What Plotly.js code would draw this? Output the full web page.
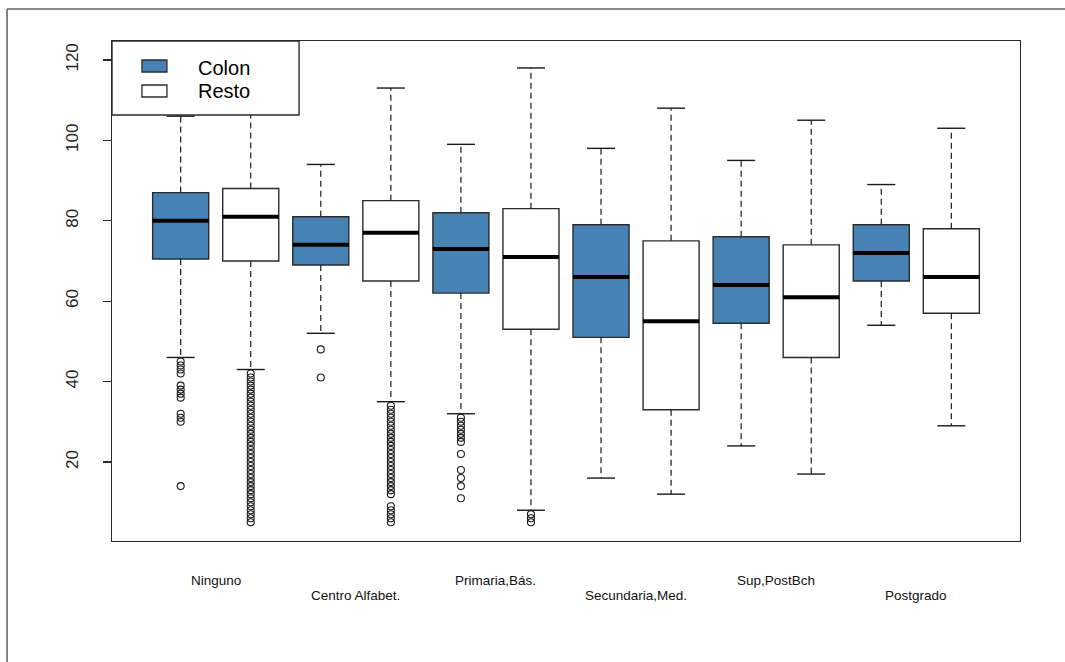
<!DOCTYPE html>
<html>
<head>
<meta charset="utf-8">
<script src="https://cdn.plot.ly/plotly-3.0.1.min.js"></script>
<style>
  html, body { margin: 0; padding: 0; background: #fff; }
  #chart { width: 1065px; height: 662px; }
</style>
</head>
<body>
<div id="chart"></div>
<script>
// ---- Data ----
const categories = ["Ninguno", "Centro Alfabet.", "Primaria,Bás.", "Secundaria,Med.", "Sup,PostBch", "Postgrado"];
const seriesNames = ["Colon", "Resto"];

const colonLower  = [46, 52, 32, 16, 24, 54];
const colonQ1     = [70.5, 69, 62, 51, 54.5, 65];
const colonMedian = [80, 74, 73, 66, 64, 72];
const colonQ3     = [87, 81, 82, 79, 76, 79];
const colonUpper  = [106, 94, 99, 98, 95, 89];

const restoLower  = [43, 35, 8, 12, 17, 29];
const restoQ1     = [70, 65, 53, 33, 46, 57];
const restoMedian = [81, 77, 71, 55, 61, 66];
const restoQ3     = [88, 85, 83, 75, 74, 78];
const restoUpper  = [110, 113, 118, 108, 105, 103];

const colonOutliers = [
  [45, 44, 43, 42, 39, 38, 37, 36, 32, 31, 30, 14],
  [48, 41],
  [31, 30, 29, 28, 27, 26, 25, 22, 18, 16, 14, 11],
  [],
  [],
  []
];
const restoOutliers = [
  [42, 41, 40, 39, 38, 37, 36, 35, 34, 33, 32, 31, 30, 29, 28, 27, 26, 25, 24, 23, 22, 21, 20, 19, 18, 17, 16, 15, 14, 13, 12, 11, 10, 9, 8, 7, 6, 5],
  [34, 33, 32, 31, 30, 29, 28, 27, 26, 25, 24, 23, 22, 21, 20, 19, 18, 17, 16, 15, 14, 13, 12, 9, 8, 7, 6, 5],
  [7, 6, 5],
  [],
  [],
  []
];

const yTicks = [20, 40, 60, 80, 100, 120];

// ---- Styles ----
const FILL_COLON = "#4682B4";
const FILL_RESTO = "#FFFFFF";
const EDGE = "#2b2b2b";
const BOXW = 0.8;
const CAPW = 0.4;
const FONT = "Liberation Sans, Arial, sans-serif";

const colonPos = categories.map((c, i) => 2 * i + 1);
const restoPos = categories.map((c, i) => 2 * i + 2);

function boxTrace(name, pos, q1, med, q3, fill) {
  return {
    type: "box", name: name, x: pos,
    q1: q1, median: med, q3: q3,
    lowerfence: q1, upperfence: q3,
    width: BOXW, whiskerwidth: 0,
    fillcolor: fill, line: { color: EDGE, width: 1.4 },
    boxpoints: false, hoverinfo: "skip", showlegend: false
  };
}

function segTrace(xs, ys, color, width, dash) {
  return {
    type: "scatter", mode: "lines", x: xs, y: ys,
    line: { color: color, width: width, dash: dash || "solid" },
    hoverinfo: "skip", showlegend: false, connectgaps: false
  };
}

function whiskers(pos, lower, q1, q3, upper) {
  const xs = [], ys = [];
  pos.forEach((p, i) => {
    xs.push(p, p, null, p, p, null);
    ys.push(q3[i], upper[i], null, q1[i], lower[i], null);
  });
  return segTrace(xs, ys, "#1a1a1a", 1.2, "6px,4px");
}
function caps(pos, lower, upper) {
  const xs = [], ys = [];
  pos.forEach((p, i) => {
    xs.push(p - CAPW / 2, p + CAPW / 2, null, p - CAPW / 2, p + CAPW / 2, null);
    ys.push(upper[i], upper[i], null, lower[i], lower[i], null);
  });
  return segTrace(xs, ys, "#1a1a1a", 1.4);
}
function medians(pos, med) {
  const xs = [], ys = [];
  pos.forEach((p, i) => {
    xs.push(p - BOXW / 2, p + BOXW / 2, null);
    ys.push(med[i], med[i], null);
  });
  return segTrace(xs, ys, "#000", 4);
}
function outlierTrace(pos, outs) {
  const xs = [], ys = [];
  pos.forEach((p, i) => outs[i].forEach(v => { xs.push(p); ys.push(v); }));
  return {
    type: "scatter", mode: "markers", x: xs, y: ys,
    marker: { symbol: "circle-open", size: 7, color: "#1a1a1a", line: { width: 1.1, color: "#1a1a1a" } },
    hoverinfo: "skip", showlegend: false
  };
}

const data = [
  boxTrace(seriesNames[0], colonPos, colonQ1, colonMedian, colonQ3, FILL_COLON),
  boxTrace(seriesNames[1], restoPos, restoQ1, restoMedian, restoQ3, FILL_RESTO),
  whiskers(colonPos, colonLower, colonQ1, colonQ3, colonUpper),
  whiskers(restoPos, restoLower, restoQ1, restoQ3, restoUpper),
  caps(colonPos, colonLower, colonUpper),
  caps(restoPos, restoLower, restoUpper),
  medians(colonPos, colonMedian),
  medians(restoPos, restoMedian),
  outlierTrace(colonPos, colonOutliers),
  outlierTrace(restoPos, restoOutliers)
];

// category labels (staggered, between each pair)
const annotations = categories.map((c, i) => ({
  text: c, x: 2 * i + 1.5, xref: "x",
  y: (i % 2 === 0) ? -0.079 : -0.109, yref: "paper",
  showarrow: false, xanchor: "center", yanchor: "middle",
  font: { family: FONT, size: 13.5, color: "#111" }
}));

// legend text
annotations.push(
  { text: seriesNames[0], xref: "paper", yref: "paper", x: 0.093, y: 0.946, xanchor: "left", yanchor: "middle",
    showarrow: false, font: { family: FONT, size: 20, color: "#000" } },
  { text: seriesNames[1], xref: "paper", yref: "paper", x: 0.093, y: 0.9, xanchor: "left", yanchor: "middle",
    showarrow: false, font: { family: FONT, size: 20, color: "#000" } }
);

const shapes = [
  // legend box
  { type: "rect", xref: "paper", yref: "paper", x0: 0, x1: 0.206, y0: 0.852, y1: 1,
    fillcolor: "#fff", line: { color: EDGE, width: 1.4 }, layer: "above" },
  { type: "rect", xref: "paper", yref: "paper", x0: 0.033, x1: 0.0605, y0: 0.938, y1: 0.962,
    fillcolor: FILL_COLON, line: { color: EDGE, width: 1.3 }, layer: "above" },
  { type: "rect", xref: "paper", yref: "paper", x0: 0.033, x1: 0.0605, y0: 0.888, y1: 0.912,
    fillcolor: FILL_RESTO, line: { color: EDGE, width: 1.3 }, layer: "above" },
  // outer frame (top and left edges of the screenshot)
  { type: "line", xref: "paper", yref: "paper", x0: -0.1156, x1: 1.06, y0: 1.064, y1: 1.064,
    line: { color: "#666", width: 1.6 } },
  { type: "line", xref: "paper", yref: "paper", x0: -0.1156, x1: -0.1156, y0: 1.064, y1: -0.25,
    line: { color: "#666", width: 1.6 } }
];

const layout = {
  width: 1065, height: 662,
  margin: { l: 112, r: 45, t: 41, b: 121, pad: 0 },
  paper_bgcolor: "#fff", plot_bgcolor: "#fff",
  showlegend: false,
  boxmode: "overlay",
  xaxis: {
    range: [0.02, 12.98], showgrid: false, zeroline: false,
    showticklabels: false, ticks: "",
    showline: true, mirror: true, linecolor: EDGE, linewidth: 1.4
  },
  yaxis: {
    range: [0.35, 124.7], showgrid: false, zeroline: false,
    tickvals: yTicks, ticktext: yTicks.map(String),
    ticks: "outside", ticklen: 8, tickwidth: 1.2, tickcolor: EDGE,
    tickangle: -90, ticklabelstandoff: 18,
    tickfont: { family: FONT, size: 17, color: "#222" },
    showline: true, mirror: true, linecolor: EDGE, linewidth: 1.4
  },
  annotations: annotations,
  shapes: shapes
};

Plotly.newPlot("chart", data, layout, { displayModeBar: false, staticPlot: true });
</script>
</body>
</html>
